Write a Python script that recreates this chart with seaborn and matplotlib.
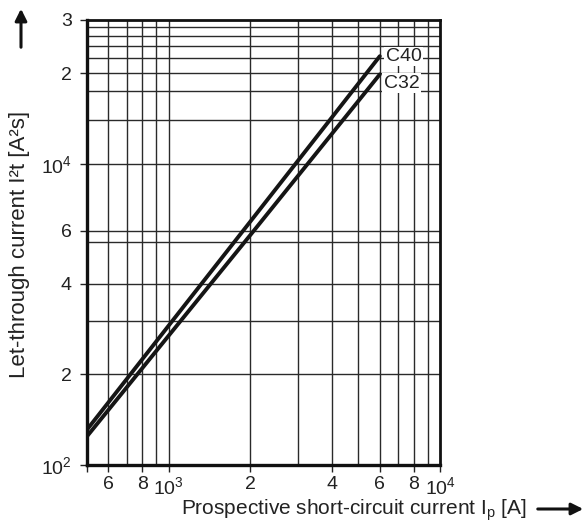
import matplotlib
matplotlib.use("Agg")
import matplotlib.pyplot as plt
import seaborn as sns
import pandas as pd
import numpy as np

# ---- data ----
current = [500, 2000, 6000]            # prospective short-circuit current Ip [A]
c40 = [1310, 6430, 22750]              # let-through I2t [A2s], C40
c32 = [1245, 5800, 19800]              # let-through I2t [A2s], C32
curve_names = ["C40", "C32"]

x_ticks = [600, 800, 1000, 2000, 4000, 6000, 8000, 10000]
x_ticklabels = ["6", "8", r"$\mathregular{10^3}$", "2", "4", "6", "8", r"$\mathregular{10^4}$"]
x_grid = [600, 700, 800, 900, 1000, 2000, 3000, 4000, 5000, 6000, 7000, 8000, 9000]

y_ticks = [1000, 2000, 4000, 6000, 10000, 20000, 30000]
y_ticklabels = [r"$\mathregular{10^2}$", "2", "4", "6", r"$\mathregular{10^4}$", "2", "3"]
y_grid = [2000, 3000, 4000, 5500, 6000, 10000, 14000, 17500, 20000, 22500, 24500, 26500, 28500]

df = pd.DataFrame({
    "current": current * 2,
    "i2t": c40 + c32,
    "curve": [curve_names[0]] * len(current) + [curve_names[1]] * len(current),
})

sns.set_theme(style="white")
plt.rcParams["font.family"] = ["Liberation Sans", "DejaVu Sans"]

W, H = 588, 525
fig = plt.figure(figsize=(W / 100, H / 100), dpi=100)
L, R, T, B = 87, 440, 20, 465
ax = fig.add_axes([L / W, (H - B) / H, (R - L) / W, (B - T) / H])

sns.lineplot(data=df, x="current", y="i2t", hue="curve",
             palette={"C40": "#151515", "C32": "#151515"},
             linewidth=2.8, legend=False, ax=ax, sort=False, estimator=None,
             zorder=5)

ax.set_xscale("log")
ax.set_yscale("log")
ax.set_xlim(500, 10000)
ax.set_ylim(1000, 30000)

# grid lines drawn at fixed positions (major + minor)
for gx in x_grid:
    ax.axvline(gx, color="#2a2a2a", linewidth=1.0, zorder=1)
for gy in y_grid:
    ax.axhline(gy, color="#2a2a2a", linewidth=1.0, zorder=1)
ax.grid(False)
ax.xaxis.set_minor_locator(matplotlib.ticker.NullLocator())
ax.yaxis.set_minor_locator(matplotlib.ticker.NullLocator())

ax.set_xticks([500] + x_ticks)
ax.set_xticklabels([""] + x_ticklabels)
ax.set_yticks(y_ticks)
ax.set_yticklabels(y_ticklabels)
ax.tick_params(which="major", direction="out", length=5, width=1.0, color="#222222",
               labelsize=14, pad=3, labelcolor="#222222")
ax.tick_params(axis="y", which="major", pad=6)
ax.tick_params(bottom=True, left=True)

for s in ax.spines.values():
    s.set_color("#111111")
    s.set_linewidth(2.0)
    s.set_zorder(7)
ax.spines["left"].set_linewidth(2.4)
ax.spines["bottom"].set_linewidth(2.4)

ax.set_xlabel("")
ax.set_ylabel("")

# curve labels
lab_font = ["Liberation Sans Narrow", "Liberation Sans", "DejaVu Sans"]
ax.text(6300, 22700, "C40", fontsize=14, family=lab_font, ha="left", va="center",
        color="#222222", bbox=dict(facecolor="white", edgecolor="none", pad=1.0), zorder=6)
ax.text(6200, 18500, "C32", fontsize=14, family=lab_font, ha="left", va="center",
        color="#222222", bbox=dict(facecolor="white", edgecolor="none", pad=1.0), zorder=6)

# axis labels as figure text
fig.text(20 / W, (H - 244) / H, "Let-through current I²t [A²s]", rotation=90,
         ha="center", va="center", fontsize=16, color="#222222")
fig.text(354 / W, (H - 514) / H, r"Prospective short-circuit current I$_\mathregular{p}$ [A]",
         ha="center", va="baseline", fontsize=15, color="#222222")

# arrows
fig.add_artist(matplotlib.patches.FancyArrowPatch(
    (21 / W, (H - 50) / H), (21 / W, (H - 6) / H), transform=fig.transFigure,
    arrowstyle="-|>,head_length=7,head_width=3.5", mutation_scale=1, linewidth=2.2,
    color="#111111"))
fig.add_artist(matplotlib.patches.FancyArrowPatch(
    (535 / W, (H - 509) / H), (586 / W, (H - 509) / H), transform=fig.transFigure,
    arrowstyle="-|>,head_length=7,head_width=3.5", mutation_scale=1, linewidth=2.2,
    color="#111111"))

fig.savefig("out.png", dpi=100, facecolor="white")
